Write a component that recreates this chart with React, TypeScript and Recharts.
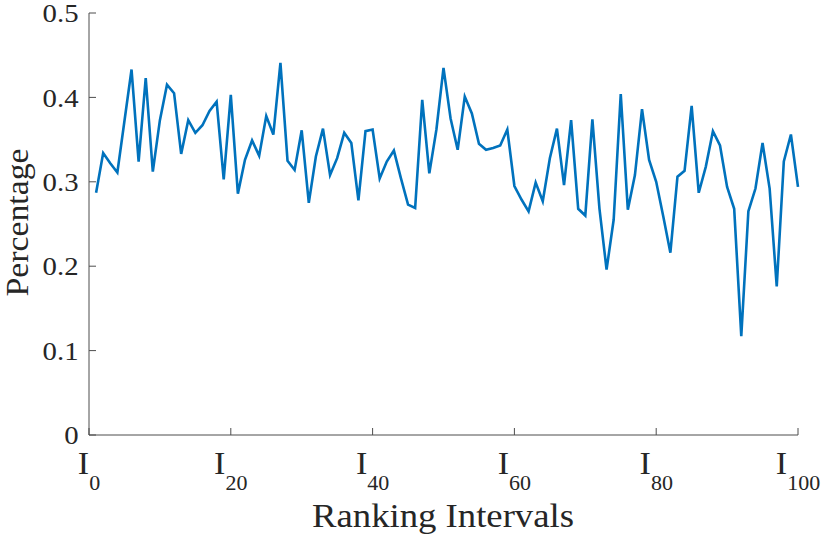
import React from "react";
import { LineChart, Line, XAxis, YAxis } from "recharts";

const percentages: number[] = [
  0.287, 0.334, 0.322, 0.311, 0.372, 0.433, 0.324, 0.423, 0.312, 0.373,
  0.415, 0.405, 0.333, 0.373, 0.358, 0.367, 0.384, 0.395, 0.303, 0.403,
  0.286, 0.326, 0.349, 0.331, 0.378, 0.356, 0.441, 0.325, 0.314, 0.361,
  0.275, 0.330, 0.363, 0.308, 0.328, 0.358, 0.346, 0.278, 0.360, 0.362,
  0.304, 0.324, 0.337, 0.304, 0.273, 0.269, 0.397, 0.310, 0.362, 0.435,
  0.375, 0.338, 0.401, 0.381, 0.345, 0.338, 0.340, 0.343, 0.362, 0.295,
  0.279, 0.265, 0.299, 0.277, 0.328, 0.363, 0.296, 0.373, 0.268, 0.260,
  0.374, 0.268, 0.196, 0.255, 0.404, 0.267, 0.308, 0.386, 0.326, 0.300,
  0.259, 0.216, 0.306, 0.313, 0.390, 0.287, 0.318, 0.360, 0.343, 0.294,
  0.268, 0.117, 0.265, 0.292, 0.346, 0.292, 0.176, 0.324, 0.356, 0.294,
];

const xTicks: number[] = [0, 20, 40, 60, 80, 100];
const yTicks: number[] = [0, 0.1, 0.2, 0.3, 0.4, 0.5];
const xLabel = "Ranking Intervals";
const yLabel = "Percentage";
const tickPrefix = "I";

const data = percentages.map((v, i) => ({ x: i + 1, y: v }));

const FONT = '"Liberation Serif", "Times New Roman", Times, serif';
const TEXT = "#262626";
const AXIS = "#4d4d4d";

const YTick = (props: any) => {
  const { y, payload } = props;
  return (
    <text
      transform={`translate(78.5,${y + 9.2}) scale(1.15,1)`}
      textAnchor="end"
      style={{ fontFamily: FONT, fontSize: 25 }}
      fill={TEXT}
    >
      {String(payload.value)}
    </text>
  );
};

const XTick = (props: any) => {
  const { x, payload } = props;
  return (
    <text
      transform={`translate(${x},474) scale(1.1,1)`}
      textAnchor="middle"
      style={{ fontFamily: FONT }}
      fill={TEXT}
    >
      <tspan style={{ fontSize: 31 }}>{tickPrefix}</tspan>
      <tspan style={{ fontSize: 20 }} dy={16}>
        {String(payload.value)}
      </tspan>
    </text>
  );
};

const YLabel = () => (
  <text
    transform={`translate(28.3,222.5) rotate(-90) scale(1.04,1)`}
    textAnchor="middle"
    style={{ fontFamily: FONT, fontSize: 32.5 }}
    fill={TEXT}
  >
    {yLabel}
  </text>
);

const XLabel = () => (
  <text
    transform={`translate(443,527.3) scale(1.08,1)`}
    textAnchor="middle"
    style={{ fontFamily: FONT, fontSize: 34 }}
    fill={TEXT}
  >
    {xLabel}
  </text>
);

export default function App() {
  return (
    <div style={{ position: "absolute", left: 0, top: 0, width: 830, height: 536, background: "#fff" }}>
      <LineChart
        width={830}
        height={536}
        data={data}
        margin={{ top: 13, right: 32, bottom: 0, left: 0 }}
      >
        <XAxis
          type="number"
          dataKey="x"
          domain={[0, 100]}
          ticks={xTicks}
          interval={0}
          height={101}
          tickSize={-7}
          tickMargin={0}
          tick={<XTick />}
          stroke={AXIS}
          tickLine={{ stroke: AXIS }}
          axisLine={{ stroke: AXIS }}
          label={{ content: <XLabel /> }}
        />
        <YAxis
          type="number"
          domain={[0, 0.5]}
          ticks={yTicks}
          interval={0}
          width={89}
          tickSize={-7}
          tickMargin={0}
          tick={<YTick />}
          stroke={AXIS}
          tickLine={{ stroke: AXIS }}
          axisLine={{ stroke: AXIS }}
          label={{ content: <YLabel /> }}
        />
        <Line
          type="linear"
          dataKey="y"
          stroke="#0072BD"
          strokeWidth={2.6}
          dot={false}
          isAnimationActive={false}
        />
      </LineChart>
    </div>
  );
}
